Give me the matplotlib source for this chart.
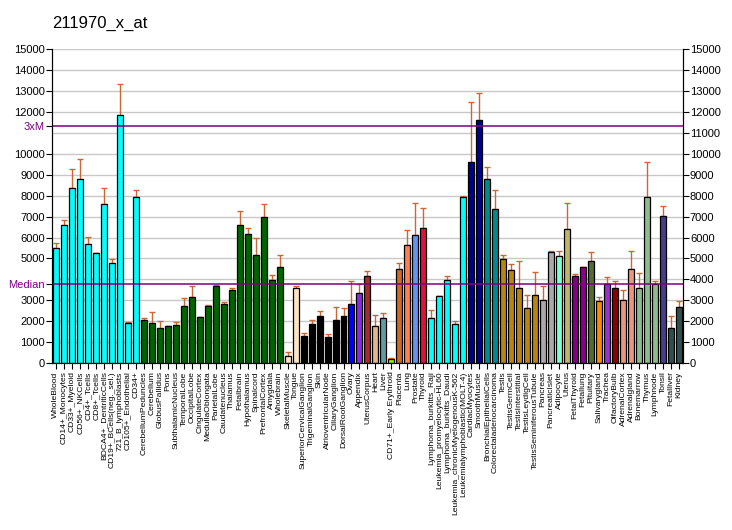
import matplotlib
matplotlib.use('Agg')
import matplotlib.pyplot as plt
import numpy as np

plt.rcParams['font.family'] = ['Liberation Sans', 'DejaVu Sans']

labels = ["WholeBlood", "CD14+_Monocytes", "CD33+_Myeloid", "CD56+_NKCells", "CD4+_Tcells",
          "CD8+_Tcells", "BDCA4+_DentriticCells", "CD19+_BCells(neg._sel.)", "721_B_lymphoblasts",
          "CD105+_Endothelial", "CD34+", "CerebellumPeduncles", "Cerebellum", "GlobusPallidus", "Pons",
          "SubthalamicNucleus", "TemporalLobe", "OccipitalLobe", "CingulateCortex", "MedullaOblongata",
          "ParietalLobe", "Caudatenucleus", "Thalamus", "Fetalbrain", "Hypothalamus", "Spinalcord",
          "PrefrontalCortex", "Amygdala", "Wholebrain", "SkeletalMuscle", "Tongue",
          "SuperiorCervicalGanglion", "TrigeminalGanglion", "Skin", "AtrioventricularNode",
          "CiliaryGanglion", "DorsalRootGanglion", "Ovary", "Appendix", "UterusCorpus", "Heart", "Liver",
          "CD71+_Early Erythroid", "Placenta", "Lung", "Prostate", "Thyroid", "Lymphoma_burkitts_Raji",
          "Leukemia_promyelocytic-HL60", "Lymphoma_burkitts_Daudi", "Leukemia_chronicMyelogenousK-562",
          "Leukemialymphoblastic(MOLT-4)", "CardiacMyocytes", "SmoothMuscle", "BronchialEpithelialCells",
          "Colorectaladenocarcinoma", "Testis", "TestisGermCell", "TestisInterstitial", "TestisLeydigCell",
          "TestisSeminiferousTubule", "Pancreas", "PancreaticIslet", "Adipocyte", "Uterus", "FetalThyroid",
          "Fetallung", "Pituitary", "Salivarygland", "Trachea", "OlfactoryBulb", "AdrenalCortex",
          "Adrenalgland", "Bonemarrow", "Thymus", "Lymphnode", "Tonsil", "Fetalliver", "Kidney"]

values = [5520, 6620, 8360, 8790, 5705, 5240, 7625, 4760, 11860, 1930, 7960,
          2075, 1915, 1690, 1790, 1835, 2750, 3180, 2220, 2750, 3705, 2845, 3515, 6585,
          6155, 5145, 6970, 3950, 4605, 350, 3610, 1310, 1885, 2270, 1260, 2075, 2270,
          2830, 3325, 4170, 1775, 2155, 190, 4505, 5625, 6105, 6440,
          2155, 3210, 3950, 1870, 7930, 9605, 11620, 8790, 7350,
          4990, 4425, 3565, 2650, 3275, 3035, 5290, 5100, 6395, 4185,
          4570, 4860, 2990, 3800, 3595, 3035, 4505, 3595, 7930, 3790, 7015, 1690, 2700]

err_top = [5755, 6860, 9300, 9735, 6045, 5275, 8390, 4955, 13330, 1965, 8250,
           2155, 2445, 2010, 1790, 1965, 3115, 3690, 2220, 2780, 3740, 2940, 3595, 7290,
           6475, 5995, 7580, 4220, 5180, 525, 3690, 1440, 2075, 2510, 1390, 2685, 2635,
           3930, 3790, 4410, 2300, 2395, 240, 4760, 6380, 7640, 7400,
           2555, 3210, 4170, 2030, 8010, 12470, 12900, 9350, 8250,
           5180, 4750, 4890, 3260, 4330, 3690, 5370, 5370, 7675, 4235,
           4605, 5290, 3180, 4125, 3930, 3470, 5340, 4285, 9605, 3900, 7495, 2255, 2990]

colors = (["#00ffff"] * 11 + ["#006400"] * 18 + ["#ffe4c4"] * 2 + ["#000000"] * 6 +
          ["#0000ff", "#8a2be2", "#a52a2a", "#deb887", "#5f9ea0", "#7fff00", "#d2691e",
           "#ff7f50", "#6495ed", "#dc143c"] + ["#00ffff"] * 5 + ["#00008b"] * 2 +
          ["#008b8b"] * 2 + ["#b8860b"] * 5 + ["#a9a9a9"] * 2 +
          ["#7fffd4", "#bdb76b", "#800080", "#8b008b", "#556b2f", "#ff8c00", "#9932cc",
           "#8b0000", "#e9967a", "#e9967a", "#8fbc8f", "#8fbc8f", "#8fbc8f", "#483d8b",
           "#2f4f4f", "#2f4f4f"])

median = 3775

x = np.arange(len(labels))
errs = np.array(err_top) - np.array(values)

fig = plt.figure(figsize=(7.32, 5.30), dpi=100)
ax = fig.add_axes([0.071, 0.315, 0.862, 0.592])

for yv in range(1000, 15001, 1000):
    ax.axhline(yv, color='#c8c8c8', lw=1, zorder=0)

ax.errorbar(x, values, yerr=[np.zeros(len(x)), errs], fmt='none', ecolor='#cc6633',
            elinewidth=1, capsize=2.5, capthick=1, zorder=1)
ax.bar(x, values, width=0.75, color=colors, edgecolor='black', linewidth=0.9, zorder=2)

ax.axhline(median, color='#800080', lw=1.1, zorder=3)
ax.axhline(3 * median, color='#800080', lw=1.1, zorder=3)

ax.set_xlim(-0.5, 78.5)
ax.set_ylim(0, 15000)

left_ticks = [0, 1000, 2000, 3000, median, 5000, 6000, 7000, 8000, 9000, 10000, 3 * median,
              12000, 13000, 14000, 15000]
left_labels = ['0', '1000', '2000', '3000', 'Median', '5000', '6000', '7000', '8000', '9000',
               '10000', '3xM', '12000', '13000', '14000', '15000']
ax.set_yticks(left_ticks)
ax.set_yticklabels(left_labels, fontsize=8)
for t in ax.get_yticklabels():
    if t.get_text() in ('Median', '3xM'):
        t.set_color('#800080')

ax.set_xticks(x)
ax.set_xticklabels(labels, rotation=90, fontsize=6.1)
ax.tick_params(axis='x', length=4, pad=2)
ax.tick_params(axis='y', length=4, pad=1)

ax2 = ax.twinx()
ax2.set_ylim(0, 15000)
ax2.set_yticks(range(0, 15001, 1000))
ax2.set_yticklabels([str(v) for v in range(0, 15001, 1000)], fontsize=8)
ax2.tick_params(axis='y', length=4, pad=1)

for a in (ax, ax2):
    a.spines['top'].set_visible(False)

fig.text(0.071, 0.955, "211970_x_at", fontsize=12, ha='left', va='center')

fig.savefig('out.png', dpi=100)
